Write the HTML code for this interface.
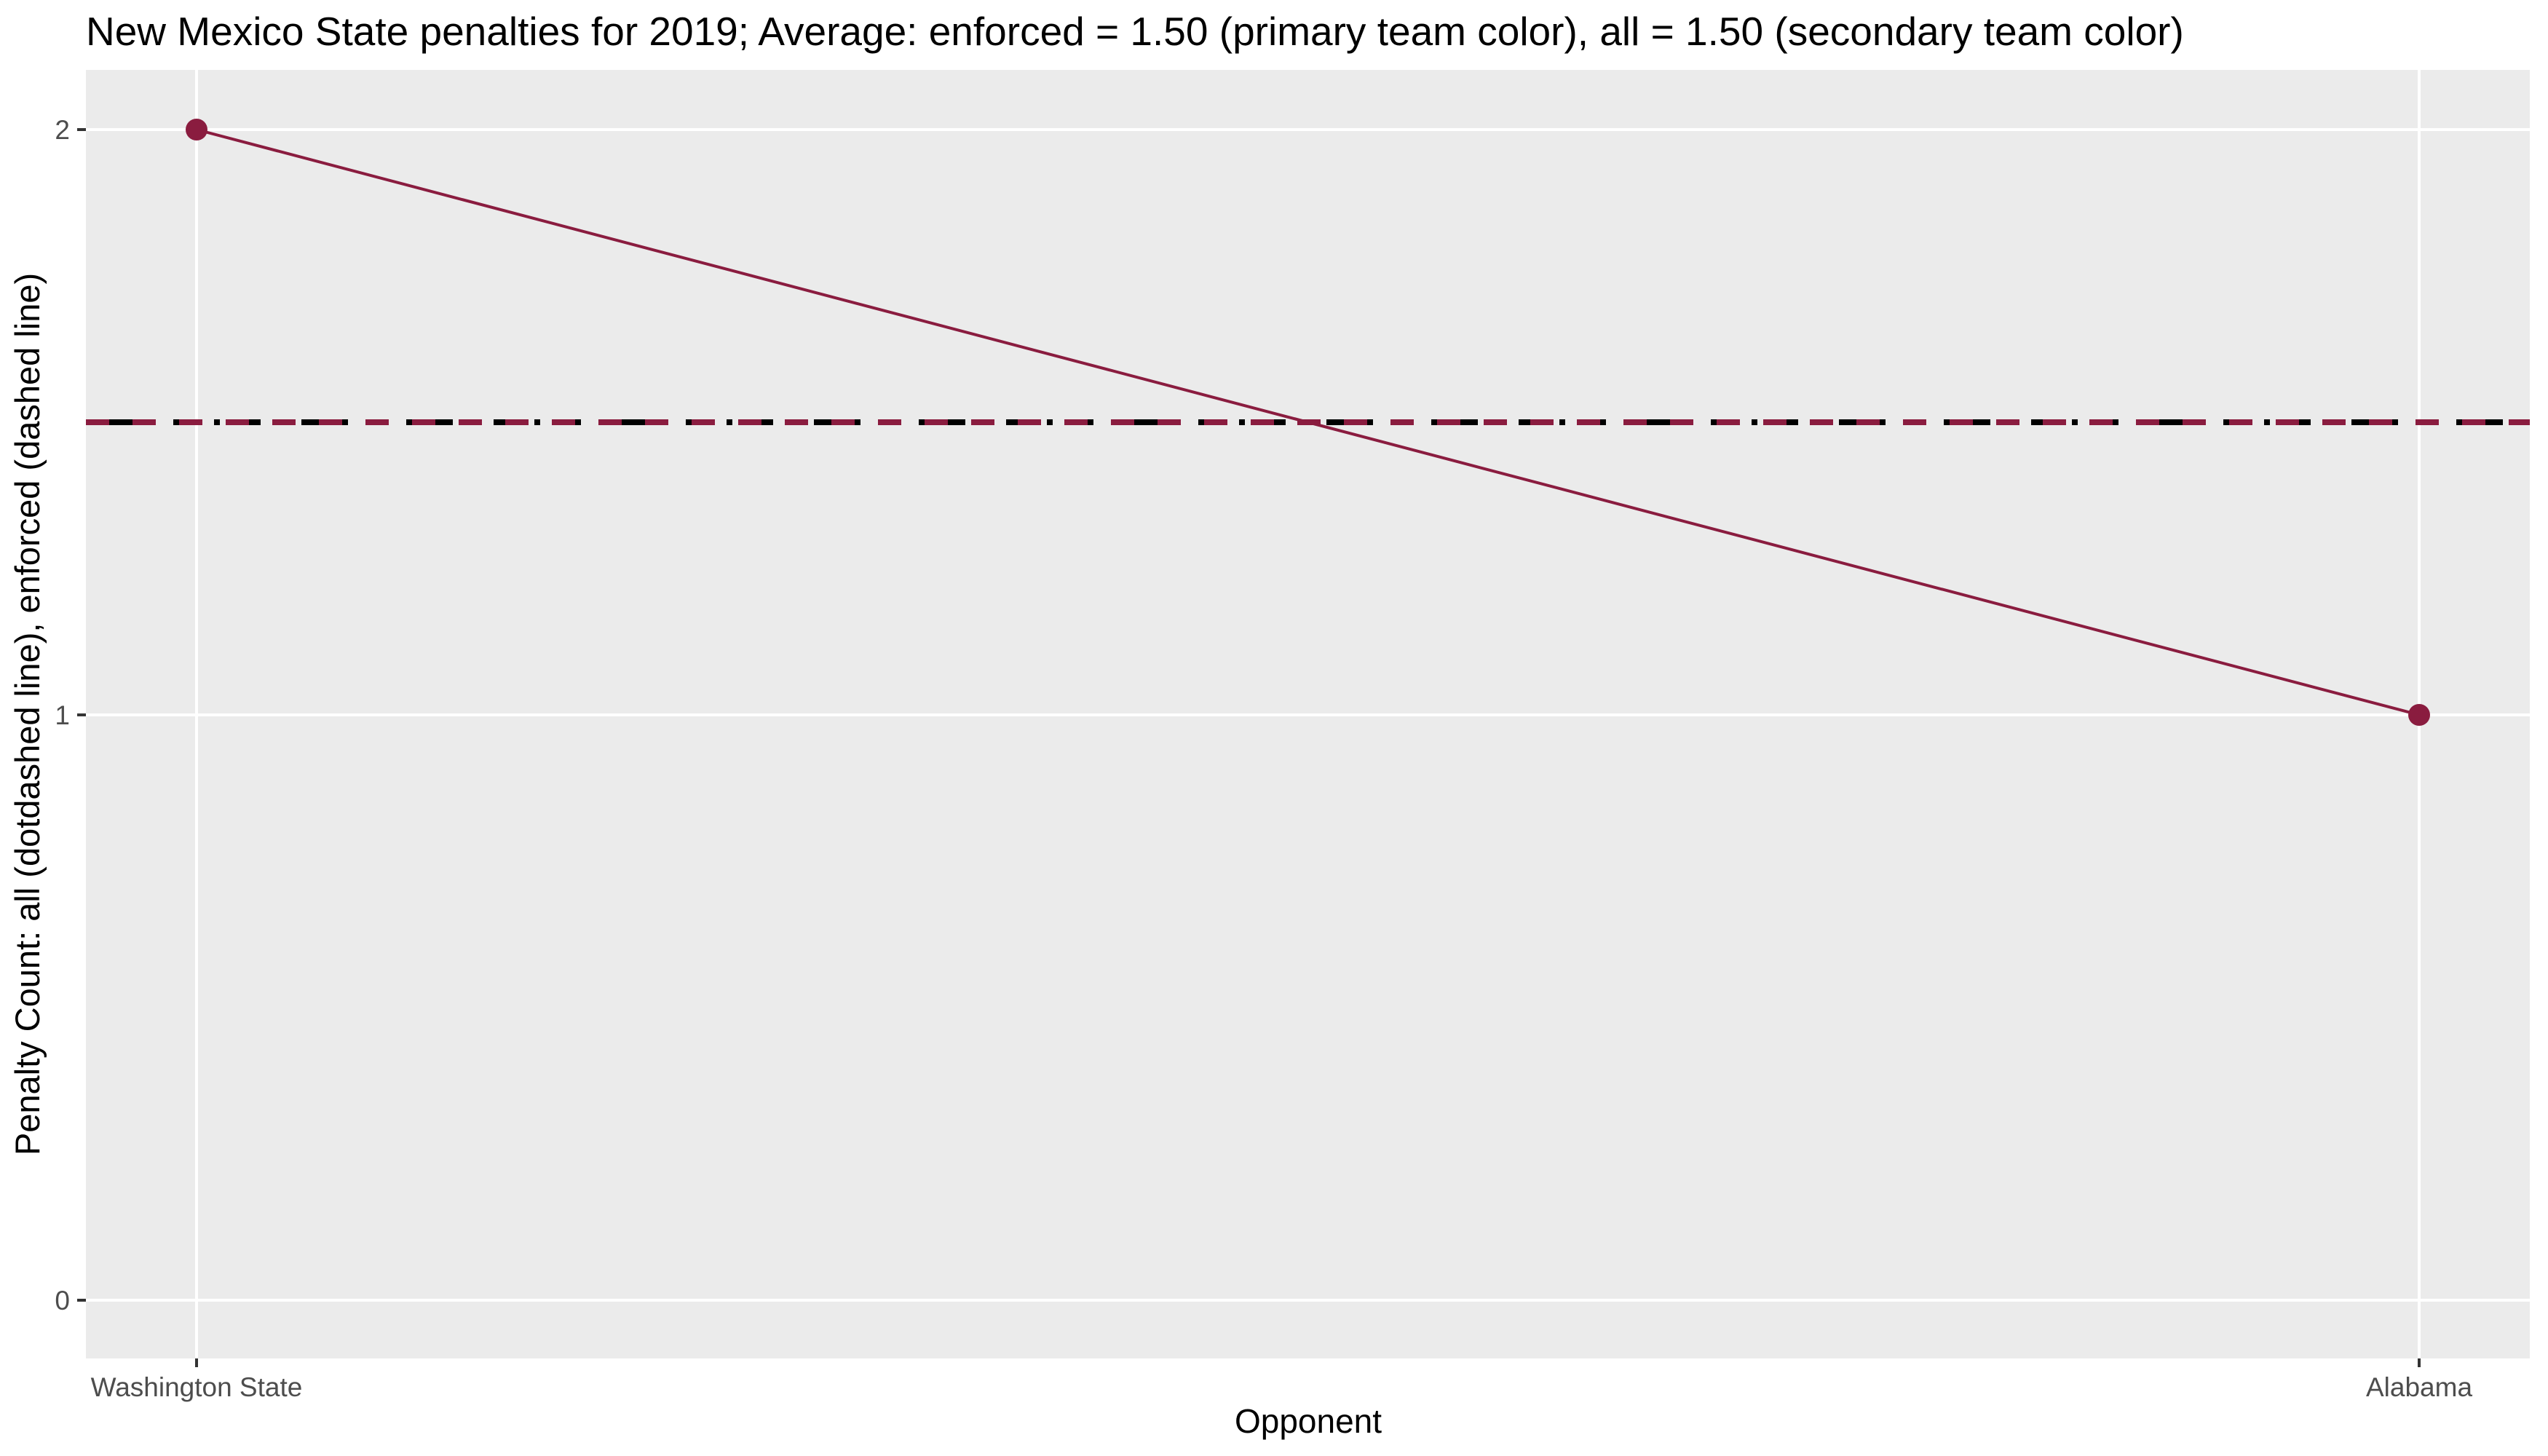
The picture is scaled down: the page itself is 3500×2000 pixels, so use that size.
<!DOCTYPE html>
<html><head><meta charset="utf-8"><style>
html,body{margin:0;padding:0;background:#fff;}
svg{display:block;font-family:"Liberation Sans",Arial,sans-serif;}
</style></head><body>
<svg id="chart" width="3500" height="2000" viewBox="0 0 3500 2000">
<rect x="0" y="0" width="3500" height="2000" fill="#fff"/>
<text x="118" y="62" font-size="55" fill="#000">New Mexico State penalties for 2019; Average: enforced = 1.50 (primary team color), all = 1.50 (secondary team color)</text>
<rect x="118" y="96" width="3357" height="1770" fill="#ebebeb"/>
<g id="grid"></g>
<g id="ticks"></g>
<g id="series"></g>
<text x="1797" y="1968" font-size="46" text-anchor="middle" fill="#000">Opponent</text>
<text transform="translate(54,981) rotate(-90)" font-size="47" text-anchor="middle" fill="#000">Penalty Count: all (dotdashed line), enforced (dashed line)</text>
</svg>
<script>
const categories = ["Washington State", "Alabama"];
const penaltyCounts = [2, 1];
const yTicks = [0, 1, 2];
const avgEnforced = 1.50;
const avgAll = 1.50;

const NS = "http://www.w3.org/2000/svg";
const xLeft = 118, xRight = 3475, yTop = 96, yBottom = 1866;
function xScale(i){ return 270 + i * (3323 - 270) / (categories.length - 1); }
function yScale(v){ return 1786 - v * (1786 - 178) / 2; }
function mk(tag, attrs, parent){ const e = document.createElementNS(NS, tag); for (const k in attrs) e.setAttribute(k, attrs[k]); parent.appendChild(e); return e; }

const grid = document.getElementById('grid');
const ticks = document.getElementById('ticks');
const series = document.getElementById('series');

yTicks.forEach(v => {
  const y = yScale(v);
  const g = mk('line', {x1:xLeft, x2:xRight, y1:y, y2:y, stroke:'#fff', 'stroke-width':4}, grid);
  
  
  const t = mk('line', {x1:106, x2:118, y1:y, y2:y, stroke:'#333', 'stroke-width':4}, ticks);
  
  
  const l = mk('text', {x:96, y:y + 13, 'font-size':37, 'text-anchor':'end', fill:'#4d4d4d'}, ticks);
  l.textContent = String(v);
  
  
});
categories.forEach((c, i) => {
  const x = xScale(i);
  const g = mk('line', {x1:x, x2:x, y1:yTop, y2:yBottom, stroke:'#fff', 'stroke-width':4}, grid);
  
  
  const t = mk('line', {x1:x, x2:x, y1:yBottom, y2:yBottom + 12, stroke:'#333', 'stroke-width':4}, ticks);
  
  
  const l = mk('text', {x:x, y:1918, 'font-size':37, 'text-anchor':'middle', fill:'#4d4d4d'}, ticks);
  l.textContent = c;
  
  
});

const yAll = yScale(avgAll);
const allLine = mk('line', {x1:xLeft, x2:xRight, y1:yAll, y2:yAll, stroke:'#000', 'stroke-width':8, 'stroke-dasharray':'8 24 32 24'}, series);


const yEnf = yScale(avgEnforced);
const enfLine = mk('line', {x1:xLeft, x2:xRight, y1:yEnf, y2:yEnf, stroke:'#8a1c3f', 'stroke-width':8, 'stroke-dasharray':'32 32'}, series);



const pts = penaltyCounts.map((v, i) => xScale(i) + ',' + yScale(v)).join(' ');
const pl = mk('polyline', {points:pts, fill:'none', stroke:'#8a1c3f', 'stroke-width':4}, series);


penaltyCounts.forEach((v, i) => {
  const p = mk('circle', {cx:xScale(i), cy:yScale(v), r:15, fill:'#8a1c3f'}, series);
  
  
});
</script>
</body></html>
